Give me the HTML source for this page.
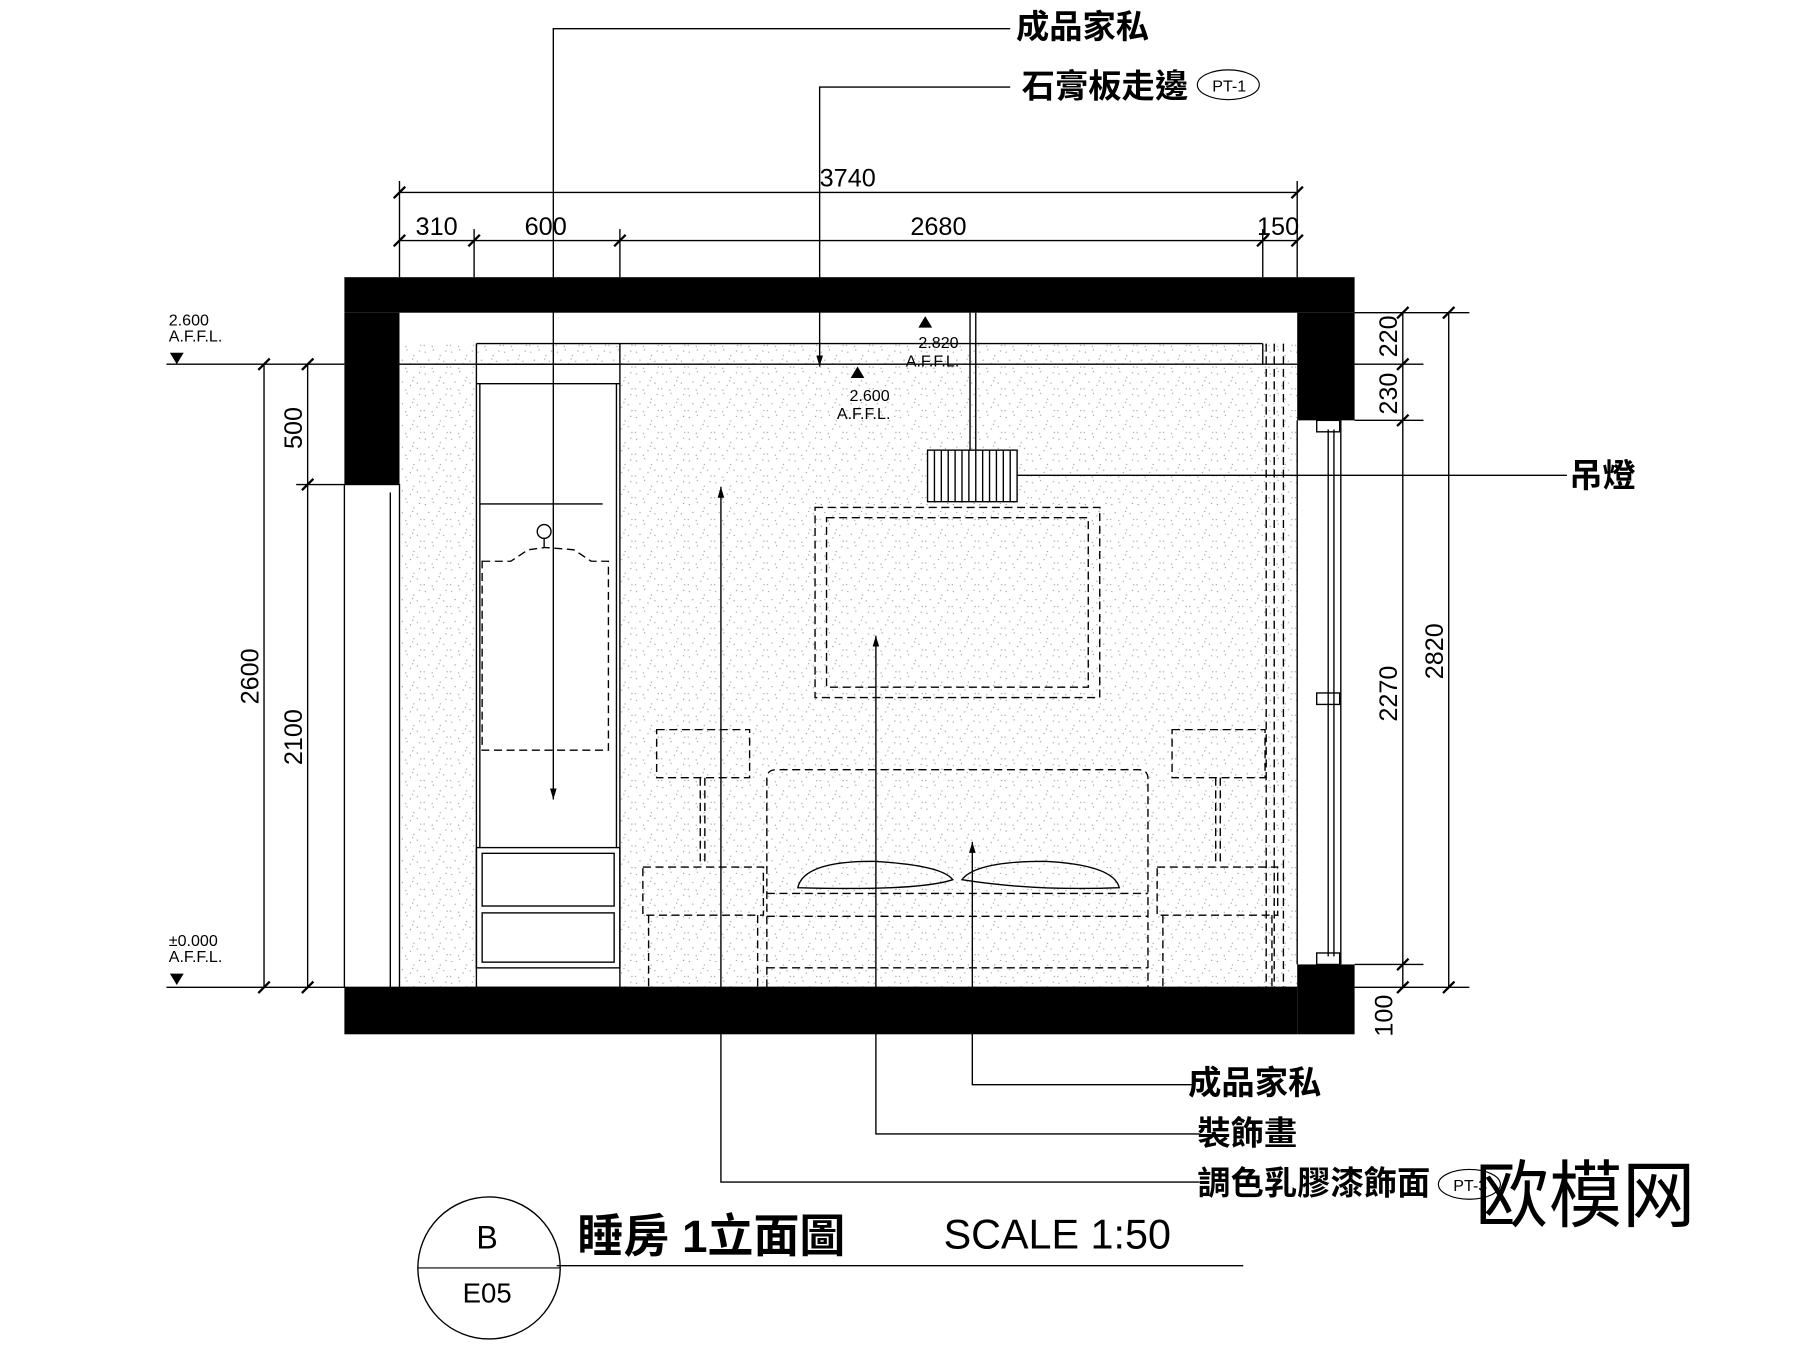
<!DOCTYPE html>
<html><head><meta charset="utf-8"><style>
html,body{margin:0;padding:0;background:#fff;}
svg{display:block}
text{font-family:"Liberation Sans","Noto Sans CJK TC",sans-serif;fill:#000}
</style></head><body>
<svg width="1800" height="1347" viewBox="0 0 1568 1176" preserveAspectRatio="none" xmlns="http://www.w3.org/2000/svg">
<defs>
<pattern id="sp" width="23" height="19" patternUnits="userSpaceOnUse">
<rect width="23" height="19" fill="#fff"/>
<g fill="#9a9a9a"><rect x="2" y="3" width="1" height="1"/><rect x="9" y="1" width="1" height="1"/><rect x="15" y="6" width="1" height="1"/><rect x="20" y="2" width="1" height="1"/><rect x="5" y="10" width="1" height="1"/><rect x="12" y="13" width="1" height="1"/><rect x="18" y="11" width="1" height="1"/><rect x="1" y="16" width="1" height="1"/><rect x="8" y="17" width="1" height="1"/><rect x="21" y="16" width="1" height="1"/><rect x="14" y="9" width="1" height="1"/></g>
</pattern>
<marker id="ar" viewBox="0 0 10 10" refX="10" refY="5" markerWidth="8" markerHeight="8" orient="auto"><path d="M0,2 L10,5 L0,8z" fill="#000"/></marker>
</defs>
<rect width="1568" height="1176" fill="#fff"/>
<rect x="348" y="318" width="67" height="544" fill="url(#sp)"/>
<rect x="540" y="318" width="590" height="544" fill="url(#sp)"/>
<rect x="348" y="300" width="782" height="18" fill="url(#sp)"/>
<g fill="none" stroke="#000" stroke-width="1.2">
<line x1="348" y1="318" x2="1130" y2="318"/>
<line x1="540" y1="300" x2="1100" y2="300"/>
<line x1="540" y1="300" x2="540" y2="318"/>
<line x1="1100" y1="300" x2="1100" y2="318"/>
<line x1="348" y1="862" x2="1130" y2="862"/>
<rect x="415" y="318" width="125" height="544"/>
<line x1="418" y1="335" x2="418" y2="740"/><line x1="537" y1="335" x2="537" y2="740"/>
<line x1="415" y1="335" x2="540" y2="335"/>
<line x1="418" y1="440" x2="525" y2="440"/>
<rect x="415" y="740" width="125" height="105"/>
<rect x="420" y="745" width="115" height="46"/>
<rect x="420" y="797" width="115" height="43"/>
<line x1="415" y1="300" x2="415" y2="318"/><line x1="415" y1="300" x2="540" y2="300"/>
<rect x="300" y="423" width="48" height="439"/>
<line x1="340" y1="430" x2="340" y2="862"/>
<line x1="1130" y1="367" x2="1130" y2="842"/>
<line x1="1168" y1="367" x2="1168" y2="842"/>
<line x1="1157" y1="375" x2="1157" y2="835"/><line x1="1162" y1="375" x2="1162" y2="835"/>
<rect x="1147" y="367" width="20" height="10"/><rect x="1147" y="605" width="20" height="10"/><rect x="1147" y="832" width="20" height="10"/>
<line x1="1180" y1="273" x2="1280" y2="273"/>
</g>
<g fill="#000">
<rect x="300" y="242" width="880" height="31"/>
<rect x="300" y="273" width="48" height="150"/>
<rect x="1130" y="273" width="50" height="94"/>
<rect x="300" y="862" width="830" height="41"/>
<rect x="1130" y="842" width="50" height="61"/>
</g>
<g fill="none" stroke="#000" stroke-width="1.2" stroke-dasharray="7,4">
<path d="M420,490 L445,490 L460,480 L475,478 L500,480 L515,490 L530,490 L530,655 L420,655 Z"/>
<rect x="710" y="443" width="248" height="166"/>
<rect x="720" y="452" width="228" height="148"/>
<rect x="572" y="637" width="81" height="42"/>
<rect x="1021" y="637" width="81" height="42"/>
<line x1="610" y1="679" x2="610" y2="755"/><line x1="614" y1="679" x2="614" y2="755"/>
<line x1="1059" y1="679" x2="1059" y2="755"/><line x1="1063" y1="679" x2="1063" y2="755"/>
<rect x="560" y="757" width="105" height="42"/>
<rect x="1008" y="757" width="105" height="42"/>
<line x1="565" y1="799" x2="565" y2="862"/><line x1="660" y1="799" x2="660" y2="862"/>
<line x1="1013" y1="799" x2="1013" y2="862"/><line x1="1108" y1="799" x2="1108" y2="862"/>
<path d="M668,862 L668,680 Q668,672 676,672 L992,672 Q1000,672 1000,680 L1000,862"/>
<path d="M668,780 L1000,780 M668,800 L1000,800 M668,845 L1000,845"/>
<line x1="1103" y1="300" x2="1103" y2="862"/>
<line x1="1110" y1="300" x2="1110" y2="862"/>
<line x1="1118" y1="300" x2="1118" y2="862"/>
</g>
<g fill="none" stroke="#000" stroke-width="1.2">
<path d="M695,775 Q700,752 760,752 Q820,755 830,768 Q800,778 695,775Z"/>
<path d="M838,768 Q850,752 910,752 Q970,755 975,775 Q900,778 838,768Z"/>
<line x1="850" y1="273" x2="850" y2="393"/><line x1="845" y1="273" x2="845" y2="393"/>
<rect x="808" y="393" width="78" height="45" fill="#fff"/>
<path d="M814,393v45M820,393v45M826,393v45M832,393v45M838,393v45M844,393v45M850,393v45M856,393v45M862,393v45M868,393v45M874,393v45M880,393v45"/>
<circle cx="474" cy="464" r="6"/>
<line x1="474" y1="470" x2="474" y2="478"/>
</g>
<g fill="none" stroke="#000" stroke-width="1.2">
<polyline points="880,25 482,25 482,698" marker-end="url(#ar)"/>
<polyline points="880,76 714,76 714,320" marker-end="url(#ar)"/>
<line x1="886" y1="415" x2="1365" y2="415"/>
<polyline points="1040,947 847,947 847,735" marker-end="url(#ar)"/>
<polyline points="1045,990 763,990 763,555" marker-end="url(#ar)"/>
<polyline points="1045,1032 628,1032 628,425" marker-end="url(#ar)"/>
<line x1="348" y1="168" x2="1130" y2="168"/>
<line x1="348" y1="210" x2="1130" y2="210"/>
<line x1="348" y1="158" x2="348" y2="242"/><line x1="1130" y1="158" x2="1130" y2="242"/>
<line x1="413" y1="200" x2="413" y2="242"/><line x1="540" y1="200" x2="540" y2="242"/><line x1="1100" y1="200" x2="1100" y2="242"/>
<line x1="145" y1="318" x2="300" y2="318"/>
<line x1="145" y1="862" x2="300" y2="862"/>
<line x1="230" y1="318" x2="230" y2="862"/>
<line x1="268" y1="318" x2="268" y2="862"/>
<line x1="258" y1="423" x2="300" y2="423"/>
<line x1="1180" y1="318" x2="1240" y2="318"/><line x1="1180" y1="367" x2="1240" y2="367"/>
<line x1="1180" y1="842" x2="1240" y2="842"/><line x1="1180" y1="862" x2="1280" y2="862"/>
<line x1="1222" y1="273" x2="1222" y2="862"/>
<line x1="1262" y1="273" x2="1262" y2="862"/>
<line x1="1083" y1="1105" x2="485" y2="1105"/>
</g>
<g stroke="#000" stroke-width="2">
<path d="M343,173l10,-10M408,215l10,-10M535,215l10,-10M1095,215l10,-10M1125,173l10,-10M1125,215l10,-10M343,215l10,-10"/>
<path d="M225,323l10,-10M225,867l10,-10M263,323l10,-10M263,428l10,-10M263,867l10,-10M1217,278l10,-10M1217,323l10,-10M1217,372l10,-10M1217,847l10,-10M1217,867l10,-10M1257,278l10,-10M1257,867l10,-10"/>
</g>
<g fill="#000"><path d="M148,308h12l-6,10z"/><path d="M148,850h12l-6,10z"/><path d="M741,330h12l-6,-10z"/><path d="M800,286h12l-6,-10z"/></g>
<g font-size="14">
<text x="147" y="284">2.600</text><text x="147" y="298">A.F.F.L.</text>
<text x="147" y="826">±0.000</text><text x="147" y="840">A.F.F.L.</text>
<text x="740" y="350">2.600</text><text x="729" y="366">A.F.F.L.</text>
<text x="800" y="304">2.820</text><text x="789" y="320">A.F.F.L.</text>
</g>
<g font-size="22">
<text x="714" y="163">3740</text>
<text x="362" y="205">310</text><text x="457" y="205">600</text><text x="793" y="205">2680</text><text x="1095" y="205">150</text>
<text transform="translate(263,392) rotate(-90)">500</text>
<text transform="translate(225,615) rotate(-90)">2600</text>
<text transform="translate(263,668) rotate(-90)">2100</text>
<text transform="translate(1217,312) rotate(-90)">220</text>
<text transform="translate(1217,362) rotate(-90)">230</text>
<text transform="translate(1217,630) rotate(-90)">2270</text>
<text transform="translate(1257,593) rotate(-90)">2820</text>
<text transform="translate(1213,905) rotate(-90)">100</text>
</g>
<g font-size="29" font-weight="bold">
<text x="885" y="33">成品家私</text>
<text x="890" y="85">石膏板走邊</text>
<text x="1367" y="425">吊燈</text>
<text x="1035" y="955">成品家私</text>
<text x="1043" y="999">裝飾畫</text>
<text x="1043" y="1043">調色乳膠漆飾面</text>
</g>
<ellipse cx="1070" cy="74" rx="27" ry="13" fill="none" stroke="#000"/>
<text x="1056" y="80" font-size="14">PT-1</text>
<ellipse cx="1280" cy="1034" rx="27" ry="13" fill="none" stroke="#000"/>
<text x="1266" y="1040" font-size="14">PT-3</text>
<circle cx="426" cy="1107" r="62" fill="none" stroke="#000" stroke-width="1.2"/>
<line x1="364" y1="1107" x2="488" y2="1107" stroke="#000"/>
<text x="415" y="1090" font-size="28" font-family="Liberation Serif,serif">B</text>
<text x="403" y="1137" font-size="24" font-family="Liberation Serif,serif">E05</text>
<text x="503" y="1093" font-size="40" font-weight="bold">睡房 1立面圖</text>
<text x="822" y="1090" font-size="36">SCALE 1:50</text>
<text x="1285" y="1066" font-size="64" fill="#333">欧模网</text>
</svg>
</body></html>
